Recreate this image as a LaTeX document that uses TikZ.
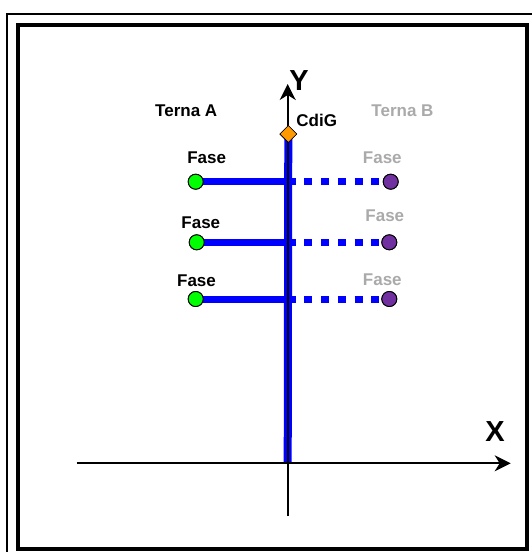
\documentclass[tikz,border=0pt]{standalone}
\usepackage{fontspec}
\setmainfont{Liberation Sans}
\usetikzlibrary{arrows.meta,shapes.geometric}
\definecolor{phaseblue}{RGB}{0,0,255}
\definecolor{greenpt}{RGB}{0,255,0}
\definecolor{purplept}{RGB}{112,48,160}
\definecolor{cdig}{RGB}{255,153,0}
\definecolor{greytxt}{RGB}{170,170,170}
\tikzset{
  lbl/.style={font=\bfseries\fontsize{17}{19}\selectfont, inner sep=0pt},
  glbl/.style={lbl, text=greytxt},
  axlbl/.style={font=\bfseries\fontsize{29}{31}\selectfont, inner sep=0pt},
  axis/.style={line width=2pt, -{Stealth[length=16pt,width=16pt,inset=5pt]}},
  gdot/.style={circle, draw=black, line width=0.9pt, fill=greenpt, minimum size=15pt, inner sep=0pt},
  pdot/.style={circle, draw=black, line width=0.9pt, fill=purplept, minimum size=15pt, inner sep=0pt},
  cgmark/.style={diamond, fill=cdig, draw=black, line width=0.6pt, minimum size=17pt, inner sep=0pt},
  solidph/.style={draw=phaseblue, line width=7pt},
  dashph/.style={draw=phaseblue, line width=7pt, dash pattern=on 8pt off 8.7pt},
}
\begin{document}
\begin{tikzpicture}[x=1pt, y=-1pt]
\useasboundingbox (0,0) rectangle (532,552);
\fill[white] (0,0) rectangle (532,552);
% frames
\draw[line width=2pt] (7,600) -- (7,14) -- (600,14);
\draw[line width=4pt] (18,24.7) rectangle (527,548.5);
% coordinates
\coordinate (O) at (287.7,463.3);
\coordinate (ybot) at (287.7,516);
\coordinate (ytop) at (287.7,84);
\coordinate (xleft) at (76.7,463.3);
\coordinate (xright) at (510.7,463.3);
% CdiG marker
\node[cgmark] (cg) at (288.3,134) {};
% phase dots
\node[gdot] (a1) at (195.7,181.7) {};
\node[gdot] (a2) at (196.7,242.3) {};
\node[gdot] (a3) at (195.7,299) {};
\node[pdot] (b1) at (390.7,181.7) {};
\node[pdot] (b2) at (389.3,242.3) {};
\node[pdot] (b3) at (389.3,299) {};
\coordinate (c1) at (287.7,181.7);
\coordinate (c2) at (287.7,242.3);
\coordinate (c3) at (287.7,299);
% conductor lines
\draw[solidph] (a1.center) -- (c1);
\draw[solidph] (a2.center) -- (c2);
\draw[solidph] (a3.center) -- (c3);
\draw[dashph] (c1) -- (b1.west);
\draw[dashph] (c2) -- (b2.west);
\draw[dashph] (c3) -- (b3.west);
\draw[draw=phaseblue, line width=8pt] (cg.center) -- (O);
% redraw dots on top
\node[gdot] at (a1) {};
\node[gdot] at (a2) {};
\node[gdot] at (a3) {};
\node[pdot] at (b1) {};
\node[pdot] at (b2) {};
\node[pdot] at (b3) {};
% axes
\draw[axis] (xleft) -- (xright);
\draw[axis] (ybot) -- (ytop);
\node[cgmark] at (cg) {};
% labels
\node[axlbl] (Y) at (299,81) {Y};
\node[axlbl] (X) at (495,432) {X};
\node[lbl] (ta) at (186.2,110.7) {Terna A};
\node[glbl] (tb) at (402.5,110.7) {Terna B};
\node[lbl] (cdg) at (316.7,120.3) {CdiG};
\node[lbl] (f1) at (206.7,157.7) {Fase};
\node[lbl] (f2) at (200.8,222.8) {Fase};
\node[lbl] (f3) at (196.5,281.2) {Fase};
\node[glbl] (g1) at (382.3,157.7) {Fase};
\node[glbl] (g2) at (384.8,216.2) {Fase};
\node[glbl] (g3) at (382.3,279.5) {Fase};
\end{tikzpicture}
\end{document}
